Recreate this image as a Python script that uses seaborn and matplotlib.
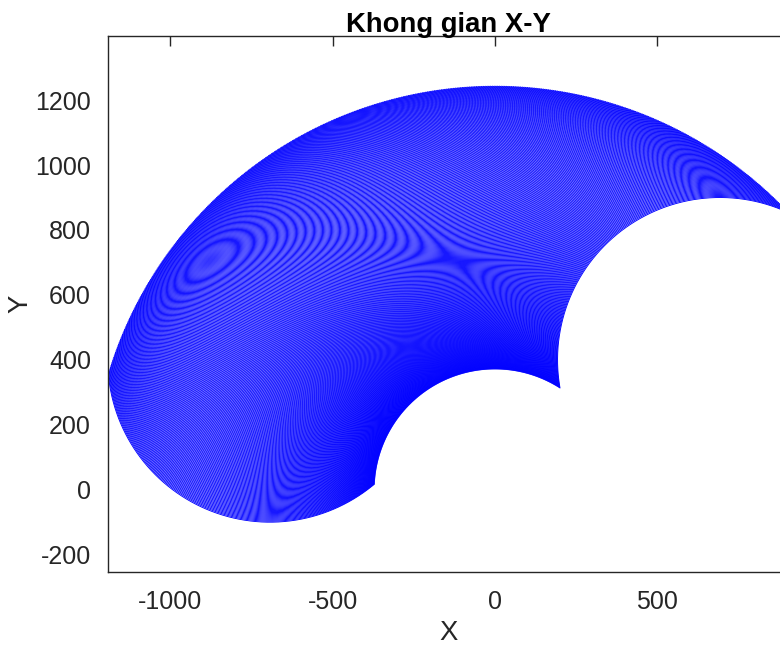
import numpy as np
import pandas as pd
import matplotlib
matplotlib.use("Agg")
import matplotlib.pyplot as plt
import seaborn as sns

# ---- data (two-link arm workspace) ----
L1 = 800          # link 1 length
L2 = 500          # link 2 length
theta1_limits_deg = [30, 150]
theta2_limits_deg = [35, 160]
theta1_step_deg = 0.25
theta2_step_deg = 0.5
x_ticks = [-1000, -500, 0, 500]
y_ticks = [-200, 0, 200, 400, 600, 800, 1000, 1200]
title_text = "Khong gian X-Y"
x_label = "X"
y_label = "Y"

theta1 = np.deg2rad(np.arange(theta1_limits_deg[0], theta1_limits_deg[1] + 1e-9, theta1_step_deg))
theta2 = np.deg2rad(np.arange(theta2_limits_deg[0], theta2_limits_deg[1] + 1e-9, theta2_step_deg))

frames = []
for i, t1 in enumerate(theta1):
    xs = L1 * np.cos(t1) + L2 * np.cos(t1 + theta2)
    ys = L1 * np.sin(t1) + L2 * np.sin(t1 + theta2)
    frames.append(pd.DataFrame({"x": xs, "y": ys, "line": i}))
df = pd.concat(frames, ignore_index=True)

# ---- style ----
sns.set_theme(style="white")
plt.rcParams["font.family"] = ["Liberation Sans", "DejaVu Sans"]
plt.rcParams["axes.unicode_minus"] = False
edge = "#262626"

W, H = 780, 645
fig = plt.figure(figsize=(W / 100, H / 100), dpi=100)
left_px, right_px, top_px, bottom_px = 108.3, 788.5, 36.0, 572.3
ax = fig.add_axes([left_px / W, 1 - bottom_px / H, (right_px - left_px) / W, (bottom_px - top_px) / H])

sns.lineplot(data=df, x="x", y="y", units="line", estimator=None, sort=False,
             color=(0, 0, 1), lw=0.65, ax=ax, legend=False)

# axis tight in x, equal aspect in y
xmin, xmax = df["x"].min(), df["x"].max()
ymin, ymax = df["y"].min(), df["y"].max()
ax.set_xlim(xmin, xmax)
yc = 0.5 * (ymin + ymax)
half = 0.5 * (xmax - xmin) * (bottom_px - top_px) / (right_px - left_px)
ax.set_ylim(yc - half, yc + half)

ax.set_xticks(x_ticks)
ax.set_yticks(y_ticks)
ax.tick_params(axis="both", direction="in", length=7, width=1.0, colors=edge,
               labelsize=18, top=True, right=False, labelcolor=edge)
ax.tick_params(axis="x", pad=13)
ax.tick_params(axis="y", pad=12.5)
for name, s in ax.spines.items():
    s.set_color(edge)
    s.set_linewidth(1.0)
    s.set_visible(name != "right")

ax.set_xlabel(x_label, fontsize=19.8, color=edge, labelpad=4)
ax.set_ylabel(y_label, fontsize=19.8, color=edge, labelpad=1.5)
ax.set_title(title_text, fontsize=19.8, fontweight="bold", color="black", pad=3)
ax.grid(False)

fig.savefig("out.png", dpi=100)
